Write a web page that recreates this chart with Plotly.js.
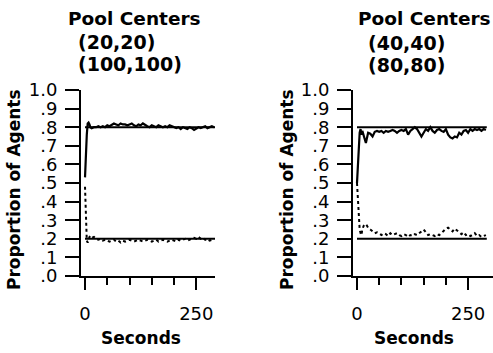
<!DOCTYPE html>
<html><head><meta charset="utf-8">
<script src="https://cdn.plot.ly/plotly-3.0.1.min.js"></script>
<style>html,body{margin:0;padding:0;background:#fff}#chart{width:493px;height:353px}</style>
</head><body><div id="chart"></div>
<script>
// ---- data ----
const seconds = [0,2,4,6,8,10,12,
  15,20,25,30,35,40,45,50, 55,60,65,70,75,80,85,90, 95,100,105,110,115,120,125,130,
  135,140,145,150,155,160,165,170, 175,180,185,190,195,200,205,210, 215,220,225,230,235,240,245,250,
  255,260,265,270,275,280,285,290];
// Panel 1: pool centers (20,20) and (100,100)
const p1Solid = [0.53,0.69,0.76,0.82,0.825,0.815,0.80,
  0.795,0.80,0.80,0.805,0.80,0.805,0.80,0.81,
  0.805,0.815,0.82,0.815,0.81,0.82,0.815,0.815,
  0.81,0.815,0.82,0.81,0.805,0.815,0.81,0.82,
  0.81,0.805,0.80,0.81,0.805,0.80,0.81,0.805,
  0.80,0.805,0.80,0.81,0.805,0.80,0.795,0.80,
  0.79,0.80,0.795,0.79,0.80,0.795,0.785,0.795,
  0.80,0.795,0.80,0.805,0.795,0.80,0.805,0.80];
const p1Dotted = [0.48,0.30,0.19,0.18,0.19,0.21,0.215,
  0.205,0.21,0.20,0.195,0.20,0.19,0.195,0.19,
  0.185,0.19,0.195,0.185,0.19,0.18,0.19,0.185,
  0.19,0.195,0.19,0.185,0.19,0.195,0.19,0.185,
  0.19,0.195,0.19,0.185,0.19,0.195,0.185,0.19,
  0.195,0.19,0.185,0.19,0.195,0.19,0.185,0.195,
  0.19,0.195,0.20,0.19,0.195,0.20,0.205,0.20,
  0.21,0.20,0.205,0.195,0.20,0.19,0.195,0.20];
// Panel 2: pool centers (40,40) and (80,80)
const p2Solid = [0.50,0.60,0.72,0.77,0.79,0.76,0.78,
  0.75,0.715,0.77,0.765,0.75,0.775,0.78,0.775,
  0.78,0.77,0.78,0.775,0.78,0.785,0.78,0.77,
  0.78,0.785,0.78,0.79,0.76,0.78,0.79,0.80,
  0.79,0.77,0.75,0.77,0.79,0.78,0.80,0.78,
  0.77,0.785,0.79,0.78,0.775,0.79,0.76,0.745,
  0.74,0.75,0.745,0.77,0.76,0.78,0.785,0.77,
  0.79,0.78,0.79,0.785,0.79,0.78,0.79,0.785];
const p2Dotted = [0.50,0.40,0.30,0.25,0.23,0.22,0.25,
  0.27,0.28,0.26,0.25,0.24,0.23,0.235,0.225,
  0.22,0.23,0.225,0.215,0.23,0.22,0.225,0.23,
  0.22,0.215,0.225,0.22,0.21,0.22,0.215,0.225,
  0.22,0.23,0.24,0.25,0.235,0.22,0.225,0.22,
  0.215,0.225,0.22,0.23,0.245,0.255,0.26,0.25,
  0.24,0.255,0.245,0.23,0.225,0.235,0.22,0.225,
  0.215,0.22,0.23,0.215,0.22,0.21,0.215,0.22];
const refLevels = [0.8, 0.2];
const refSpan = [0, 292];
const titles1 = ["Pool Centers", "(20,20)", "(100,100)"];
const titles2 = ["Pool Centers", "(40,40)", "(80,80)"];
const yTickVals = [0,0.1,0.2,0.3,0.4,0.5,0.6,0.7,0.8,0.9,1.0];
const yTickText = [".0",".1",".2",".3",".4",".5",".6",".7",".8",".9","1.0"];
const xTickVals = [0, 250];
const xTickText = ["0", "250"];
const xMinorVals = [50, 100, 150, 200];

// ---- build ----
const W = 493, H = 353;
const px = v => v / W, py = v => 1 - v / H;
const FONT = "DejaVu Sans";
const traces = [];
[["x","y"],["x2","y2"]].forEach((ax, i) => {
  refLevels.forEach(l => traces.push({x: refSpan, y: [l, l], xaxis: ax[0], yaxis: ax[1],
    mode: "lines", line: {color: "#000", width: 2}, hoverinfo: "skip"}));
  const s = i === 0 ? p1Solid : p2Solid, d = i === 0 ? p1Dotted : p2Dotted;
  traces.push({x: seconds, y: s, xaxis: ax[0], yaxis: ax[1], mode: "lines",
    line: {color: "#000", width: 2.2}});
  traces.push({x: seconds, y: d, xaxis: ax[0], yaxis: ax[1], mode: "lines",
    line: {color: "#000", width: 2, dash: "dot"}});
});

function xAxis(domain, range) {
  return {domain, range, showgrid: false, zeroline: false, showline: true, linewidth: 2,
    linecolor: "#000", ticks: "outside", ticklen: 12, tickwidth: 2, tickcolor: "#000",
    tickmode: "array", tickvals: xTickVals, ticktext: xTickText, ticklabelstandoff: 8,
    minor: {tickmode: "array", tickvals: xMinorVals, ticks: "outside", ticklen: 7, tickwidth: 2, tickcolor: "#000", showgrid: false},
    tickfont: {family: FONT, size: 18, color: "#000"}, fixedrange: true};
}
function yAxis(anchor) {
  return {domain: [py(276), py(90)], range: [0, 1], anchor, showgrid: false, zeroline: false,
    showline: true, linewidth: 2, linecolor: "#000", ticks: "outside", ticklen: 14,
    tickwidth: 2, tickcolor: "#000", tickmode: "array", tickvals: yTickVals, ticktext: yTickText,
    ticklabelstandoff: 4, tickfont: {family: FONT, size: 18, color: "#000"}, fixedrange: true};
}

const ann = [];
function titleBlock(lines, xs, ys, sizes) {
  lines.forEach((t, k) => ann.push({text: "<b>" + t + "</b>", xref: "paper", yref: "paper",
    x: px(xs[k]), y: py(ys[k]), xanchor: "left", yanchor: "middle", showarrow: false,
    font: {family: FONT, size: sizes[k], color: "#000"}}));
}
titleBlock(titles1, [66, 76, 76], [19, 42, 64], [18.5, 19, 19]);
titleBlock(titles2, [356, 366, 366], [19, 43, 65], [18.5, 19, 19]);
[[14, "Proportion of Agents"], [287, "Proportion of Agents"]].forEach(([x, t]) => ann.push({
  text: "<b>" + t + "</b>", xref: "paper", yref: "paper", x: px(x), y: py(190), textangle: -90,
  xanchor: "center", yanchor: "middle", showarrow: false, font: {family: FONT, size: 17, color: "#000"}}));
[[141, "Seconds"], [414, "Seconds"]].forEach(([x, t]) => ann.push({
  text: "<b>" + t + "</b>", xref: "paper", yref: "paper", x: px(x), y: py(338),
  xanchor: "center", yanchor: "middle", showarrow: false, font: {family: FONT, size: 17, color: "#000"}}));

const layout = {
  width: W, height: H, margin: {l: 0, r: 0, t: 0, b: 0},
  paper_bgcolor: "#fff", plot_bgcolor: "#fff", showlegend: false,
  font: {family: FONT, color: "#000"},
  xaxis: xAxis([px(81), px(215)], [-9, 292]),
  yaxis: yAxis("x"),
  xaxis2: xAxis([px(353), 1], [-9, 306]),
  yaxis2: yAxis("x2"),
  annotations: ann
};
layout.xaxis.anchor = "y";
layout.xaxis2.anchor = "y2";
Plotly.newPlot("chart", traces, layout, {staticPlot: true, displayModeBar: false});
</script></body></html>
